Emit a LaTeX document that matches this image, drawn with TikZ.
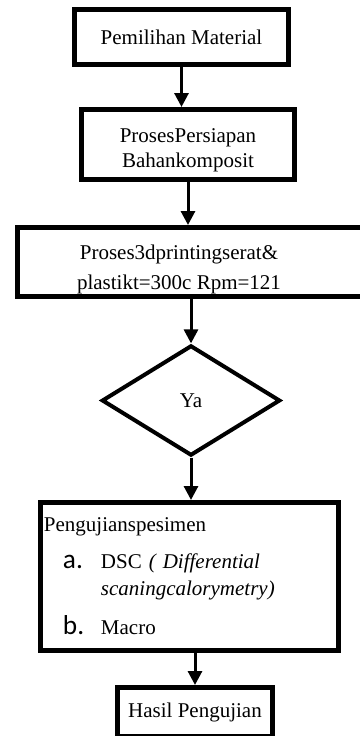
\documentclass[tikz,border=0pt]{standalone}
\usepackage{fontspec}
\setmainfont{Liberation Serif}
\newfontfamily\listfont{Carlito}
\usetikzlibrary{shapes.geometric,arrows.meta,positioning}

\begin{document}
\begin{tikzpicture}[x=0.75pt,y=-0.75pt,
    box/.style={draw, line width=3.75pt, rectangle, inner sep=2pt, align=center},
    decision/.style={draw, line width=3pt, diamond, inner sep=0pt, minimum width=133.8pt, minimum height=82.7pt},
    arr/.style={line width=2.25pt, -{Triangle[length=10.5pt,width=10.5pt]}},
    font=\fontsize{15.75}{18.8}\selectfont]
    \useasboundingbox (0,0) rectangle (360,736);
    \clip (0,0) rectangle (360,736);

    % Boxes of the flow
    \node[box, minimum width=160.5pt, minimum height=41.25pt] (bahan) at (181.5,37) {Pemilihan Material};
    \node[box, minimum width=159.75pt, minimum height=52.5pt] (siap) at (188,144.5) {};
    \node[align=center] (siaptxt) at (188,150.5) {ProsesPersiapan\\Bahankomposit};
    \node[box, minimum width=275.6pt, minimum height=51.75pt] (cetak) at (201.25,262) {};
    \node[align=center] (cetaktxt) at (179,269) {Proses3dprintingserat\&\\[3.75pt]plastikt=300c Rpm=121};
    \node[decision] (ya) at (191,400.5) {Ya};
    \node[box, align=left, text width=218.3pt, inner xsep=2.6pt, minimum width=223.5pt, minimum height=111pt] (uji) at (189.5,576.5) {Pengujianspesimen\\[9pt]
      \hspace*{14.25pt}\makebox[28.5pt][l]{\listfont\fontsize{20.5}{18.8}\selectfont a.}DSC \textit{( Differential}\\[1.45pt]
      \hspace*{42.75pt}\textit{scaningcalorymetry)}\\[10.45pt]
      \hspace*{14.25pt}\makebox[28.5pt][l]{\listfont\fontsize{20.5}{18.8}\selectfont b.}Macro};
    \node[box, minimum width=116.25pt, minimum height=36.75pt] (hasil) at (195,712) {Hasil Pengujian};

    % Arrows
    \draw[arr] (bahan.south) -- (bahan.south |- siap.north);
    \draw[arr] (siap.south) -- (siap.south |- cetak.north);
    \draw[arr] (ya.north |- cetak.south) -- (ya.north);
    \draw[arr] (ya.south) -- (ya.south |- uji.north);
    \draw[arr] (uji.south -| hasil.north) -- (hasil.north);

\end{tikzpicture}
\end{document}
